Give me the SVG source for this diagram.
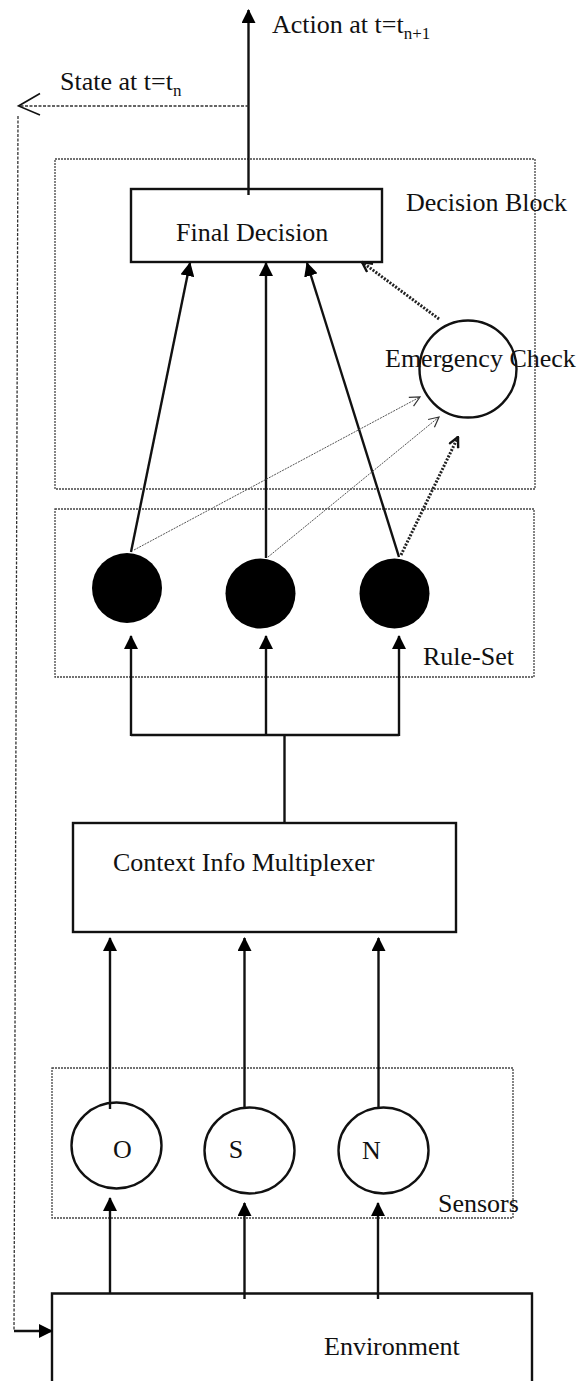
<svg xmlns="http://www.w3.org/2000/svg" width="586" height="1381" viewBox="0 0 586 1381">
  <style>
    text { font-family: "Liberation Serif", "Times New Roman", serif; font-size: 26px; fill: #111; }
    .sub { font-size: 17px; }
    .group { fill: none; stroke: #444; stroke-width: 1.3; stroke-dasharray: 2 1; }
    .box { fill: none; stroke: #111; stroke-width: 2.4; }
    .ring { fill: none; stroke: #111; stroke-width: 2.4; }
    .rule { fill: #000; stroke: none; }
    .solid { fill: none; stroke: #111; stroke-width: 2.4; }
    .thin { fill: none; stroke: #555; stroke-width: 1; stroke-dasharray: 2 1; }
    .dots { fill: none; stroke: #222; stroke-width: 3; stroke-dasharray: 2 1.5; }
    .dash { fill: none; stroke: #333; stroke-width: 1.3; stroke-dasharray: 3 1.5; }
  </style>
  <defs>
    <marker id="head" viewBox="0 0 14 14" markerWidth="14" markerHeight="14" refX="13" refY="7" markerUnits="userSpaceOnUse" orient="auto">
      <path d="M0,0 L14,7 L0,14 z" fill="#000"/>
    </marker>
    <marker id="open" viewBox="0 0 12 12" markerWidth="12" markerHeight="12" refX="11" refY="6" markerUnits="userSpaceOnUse" orient="auto">
      <path d="M1,1 L11,6 L1,11" fill="none" stroke="#333" stroke-width="1.2"/>
    </marker>
    <marker id="openBold" viewBox="0 0 12 12" markerWidth="12" markerHeight="12" refX="11" refY="6" markerUnits="userSpaceOnUse" orient="auto">
      <path d="M1,1 L11,6 L1,11" fill="none" stroke="#111" stroke-width="2.4"/>
    </marker>
  </defs>

  <rect width="586" height="1381" fill="#fff"/>

  <!-- grouping frames -->
  <g id="decision-block">
    <rect class="group" x="55" y="159" width="480" height="330"/>
    <text x="406" y="211">Decision Block</text>
  </g>
  <g id="rule-set">
    <rect class="group" x="55" y="509" width="479" height="168"/>
    <text x="423" y="665">Rule-Set</text>
  </g>
  <g id="sensors">
    <rect class="group" x="52" y="1068" width="461" height="150"/>
    <text x="438" y="1212">Sensors</text>
  </g>

  <!-- nodes -->
  <g id="final-decision">
    <rect class="box" x="131" y="189" width="251" height="73"/>
    <text x="176" y="241">Final Decision</text>
  </g>
  <g id="emergency-check">
    <circle class="ring" cx="468" cy="369" r="48.5"/>
    <text x="385" y="367">Emergency Check</text>
  </g>
  <g id="rule-1"><circle class="rule" cx="127" cy="588" r="35"/></g>
  <g id="rule-2"><circle class="rule" cx="260.5" cy="593.5" r="35"/></g>
  <g id="rule-3"><circle class="rule" cx="394.5" cy="593.5" r="35"/></g>
  <g id="context-mux">
    <rect class="box" x="73" y="823" width="383" height="109"/>
    <text x="113" y="871">Context Info Multiplexer</text>
  </g>
  <g id="sensor-o">
    <ellipse class="ring" cx="116.5" cy="1145.5" rx="45" ry="43"/>
    <text x="122.5" y="1158" text-anchor="middle">O</text>
  </g>
  <g id="sensor-s">
    <ellipse class="ring" cx="249.5" cy="1150.5" rx="45" ry="43"/>
    <text x="236" y="1158" text-anchor="middle">S</text>
  </g>
  <g id="sensor-n">
    <ellipse class="ring" cx="383.5" cy="1150.5" rx="45" ry="43"/>
    <text x="371.5" y="1159" text-anchor="middle">N</text>
  </g>
  <g id="environment">
    <path class="box" d="M52,1390 V1293.5 H532 V1390"/>
    <text x="324" y="1355">Environment</text>
  </g>

  <!-- connectors -->
  <g id="connectors">
    <!-- action output -->
    <line class="solid" x1="248.5" y1="195" x2="248.5" y2="10" marker-end="url(#head)"/>
    <text x="272" y="33">Action at t=t<tspan class="sub" dy="6">n+1</tspan></text>

    <!-- state feedback loop -->
    <path class="dash" d="M248.5,106 H19"/>
    <path d="M40,93.5 L18.5,106 L40,115" fill="none" stroke="#111" stroke-width="1.6"/>
    <text x="60" y="90">State at t=t<tspan class="sub" dy="6">n</tspan></text>
    <path class="dash" d="M18,116 L14,1331"/>
    <line class="solid" x1="14" y1="1331" x2="52" y2="1331" marker-end="url(#head)"/>

    <!-- rules to final decision -->
    <line class="solid" x1="131" y1="552" x2="190" y2="263" marker-end="url(#head)"/>
    <line class="solid" x1="266" y1="558" x2="266" y2="263" marker-end="url(#head)"/>
    <line class="solid" x1="399" y1="557" x2="307" y2="263" marker-end="url(#head)"/>

    <!-- rules to emergency check -->
    <line class="thin" x1="134" y1="550" x2="420" y2="397" marker-end="url(#open)"/>
    <line class="thin" x1="268" y1="557" x2="439" y2="417" marker-end="url(#open)"/>
    <line class="dots" x1="401" y1="555" x2="458" y2="437" marker-end="url(#openBold)"/>

    <!-- emergency check to final decision -->
    <line class="dots" x1="439" y1="319" x2="362" y2="262" marker-end="url(#openBold)"/>

    <!-- multiplexer fan-out to rules -->
    <path class="solid" d="M284.5,823 V735"/>
    <path class="solid" d="M131,735 H399"/>
    <line class="solid" x1="131" y1="736" x2="131" y2="636" marker-end="url(#head)"/>
    <line class="solid" x1="266" y1="736" x2="266" y2="636" marker-end="url(#head)"/>
    <line class="solid" x1="399" y1="736" x2="399" y2="636" marker-end="url(#head)"/>

    <!-- sensors to multiplexer -->
    <line class="solid" x1="110" y1="1109" x2="110" y2="938" marker-end="url(#head)"/>
    <line class="solid" x1="244.5" y1="1108" x2="244.5" y2="938" marker-end="url(#head)"/>
    <line class="solid" x1="378.5" y1="1108" x2="378.5" y2="938" marker-end="url(#head)"/>

    <!-- environment to sensors -->
    <line class="solid" x1="110" y1="1293" x2="110" y2="1198" marker-end="url(#head)"/>
    <line class="solid" x1="244.5" y1="1299" x2="244.5" y2="1203" marker-end="url(#head)"/>
    <line class="solid" x1="378" y1="1299" x2="378" y2="1203" marker-end="url(#head)"/>
  </g>
</svg>
